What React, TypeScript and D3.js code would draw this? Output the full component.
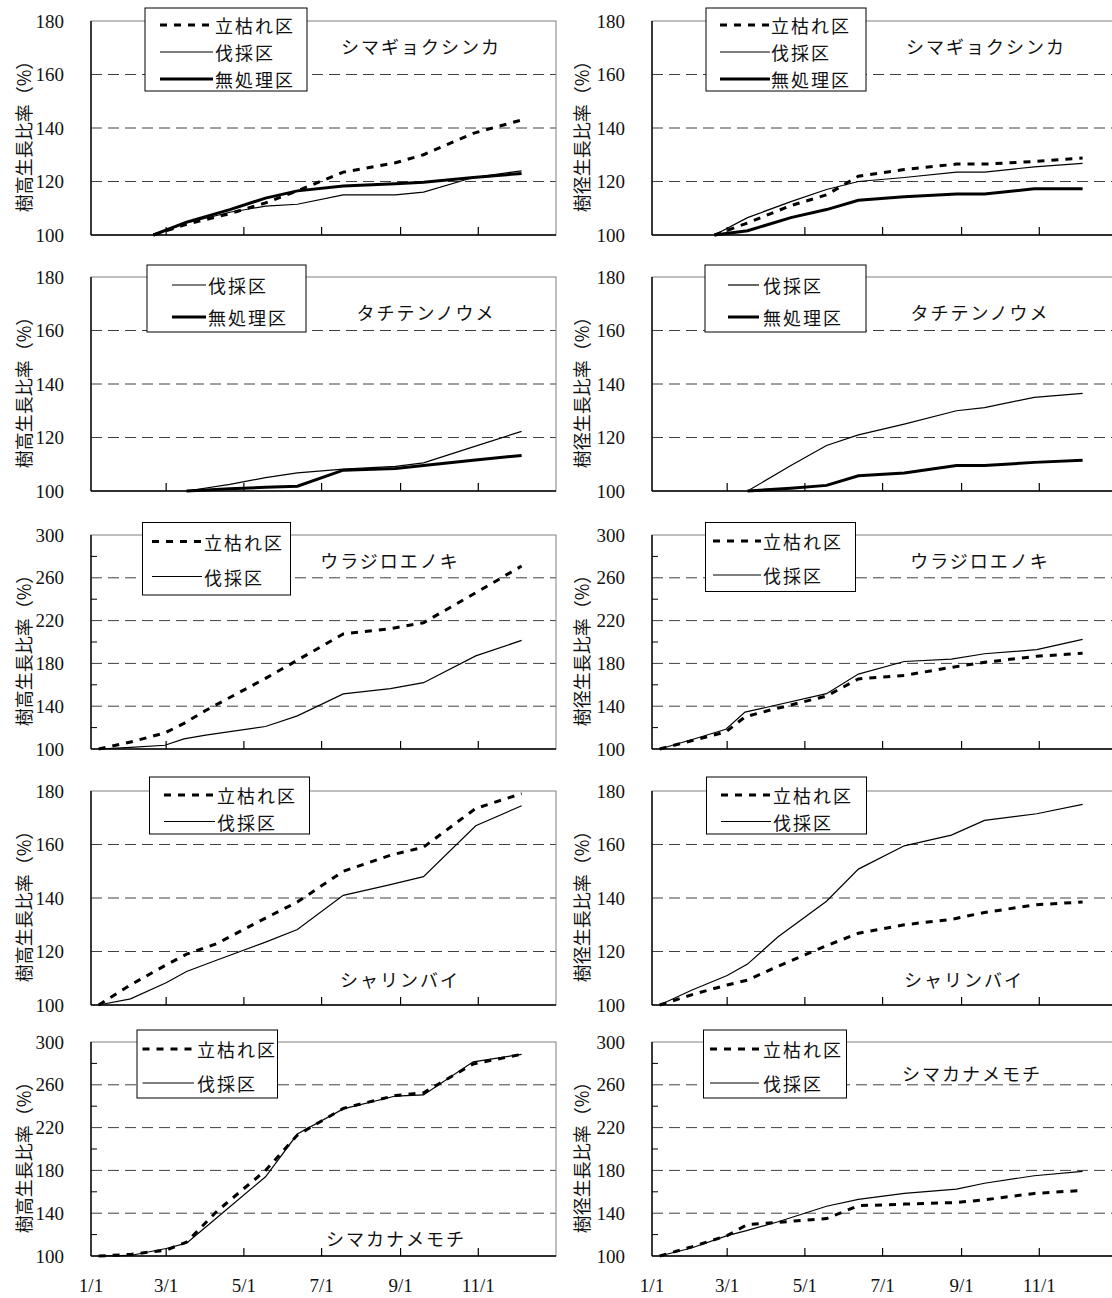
import React from 'react';
import * as d3 from 'd3';

const shimaDates = ['2/19', '3/17', '4/20', '5/18', '6/12', '7/18', '8/28', '9/19', '10/28', '12/5'];
const shimaHeightTachigare = [100, 104, 108, 112, 116.5, 123.5, 127, 130, 138, 143];
const shimaHeightBassai = [100, 104.5, 108.5, 110.8, 111.5, 115, 115, 116, 121.5, 124];
const shimaHeightMushori = [100, 104.8, 109.5, 113.8, 116.5, 118.3, 119.2, 119.7, 121.5, 123];
const shimaDiamTachigare = [100, 104.5, 111, 115, 122, 124.5, 126.5, 126.5, 127.5, 128.8];
const shimaDiamBassai = [100, 106.5, 112.5, 117, 120, 121.5, 123.5, 123.5, 125.5, 126.8];
const shimaDiamMushori = [100, 101.6, 106.5, 109.5, 113, 114.3, 115.3, 115.3, 117.3, 117.3];

const tachiDates = ['3/17', '4/20', '5/18', '6/12', '7/18', '8/28', '9/19', '10/28', '12/5'];
const tachiHeightBassai = [100, 102.5, 105, 106.8, 108.2, 109.2, 110.5, 116.5, 122.3];
const tachiHeightMushori = [100, 100.8, 101.4, 101.8, 107.8, 108.4, 109.5, 111.5, 113.3];
const tachiDiamBassai = [100, 109.5, 117, 121, 125, 130, 131.2, 135, 136.5];
const tachiDiamMushori = [100, 101, 102.1, 105.7, 106.7, 109.5, 109.5, 110.7, 111.5];

const urajiroDates = ['1/7', '2/1', '2/28', '3/15', '4/1', '5/18', '6/12', '7/18', '8/24', '9/19', '10/30', '12/5'];
const urajiroHeightTachigare = [100, 106.5, 115, 124, 136, 166, 183, 207.5, 212.5, 218, 246, 271];
const urajiroHeightBassai = [100, 101.5, 103.5, 109.5, 113, 121, 131, 151.5, 156.5, 162, 187, 201.5];
const urajiroDiamTachigare = [100, 107.7, 116, 130, 135.5, 149.5, 165.5, 168.8, 176.3, 181, 186.7, 189.5];
const urajiroDiamBassai = [100, 108.6, 118.5, 134.5, 139, 151.7, 170, 181.8, 184, 189, 192.8, 202.5];

const shariDates = ['1/7', '2/1', '3/1', '3/17', '4/10', '5/18', '6/12', '7/18', '8/24', '9/19', '10/30', '12/5'];
const shariHeightTachigare = [100, 107.5, 115, 119, 123, 132.5, 138.5, 150, 156, 159, 173.5, 179];
const shariHeightBassai = [100, 102.3, 108.3, 112.5, 116.8, 123.5, 128.2, 141, 145, 148, 167, 174.5];
const shariDiamTachigare = [100, 103.8, 107.5, 109.3, 114.5, 122.2, 126.8, 130, 132, 134.6, 137.5, 138.5];
const shariDiamBassai = [100, 105.5, 111, 115.3, 125.5, 138.8, 150.8, 159.5, 163.5, 169, 171.5, 175];

const kanameDates = ['1/7', '2/1', '3/1', '3/17', '4/10', '5/18', '6/12', '7/18', '8/28', '9/19', '10/28', '12/5'];
const kanameHeightTachigare = [100, 101.5, 105.5, 113, 142, 180, 213, 238, 250, 252.5, 279.5, 288.5];
const kanameHeightBassai = [100, 100.5, 107, 112, 136, 174, 214, 237.5, 249.5, 250.5, 281.5, 288.5];
const kanameDiamTachigare = [100, 108.5, 119, 129.5, 131.5, 135, 147, 148.5, 150, 152.5, 158.5, 161.3];
const kanameDiamBassai = [100, 107.5, 119, 124, 132, 146.5, 153, 158.5, 162.5, 168, 175, 179];

const speciesNames = ['シマギョクシンカ', 'タチテンノウメ', 'ウラジロエノキ', 'シャリンバイ', 'シマカナメモチ'];
const treatmentNames = { dash: '立枯れ区', thin: '伐採区', thick: '無処理区' };
const yTitles = ['樹高生長比率（%）', '樹径生長比率（%）'];

// layout
const W = 1112;
const H = 1298;
const rowTops = [21, 277, 535, 791, 1042];
const plotH = 214;
const colLefts = [91, 652];
const plotW = 465;

// legend boxes: [x, y, w, h, entry ys, sample x0, sample x1, text x]
const legendLayouts = [
  [145, 8, 162, 83, [25, 52, 79], 160, 213, 215],
  [706, 8, 160, 83, [25, 52, 79], 720, 770, 771],
  [147, 265, 159, 67, [285, 317], 172, 206, 208],
  [705, 265, 161, 67, [285, 317], 728, 759, 763],
  [142.5, 522.5, 148, 72.5, [541.5, 576.5], 152, 202, 204],
  [705.5, 522.5, 150, 69, [541, 575], 713, 761, 763],
  [149.5, 777, 160, 57, [795, 821.5], 164, 215, 217],
  [706.5, 777, 160, 57, [795, 821.5], 721, 771, 773],
  [137, 1030, 140.5, 68, [1049, 1083], 142.5, 194, 197],
  [703.5, 1030, 143, 68, [1049, 1083], 710, 759, 763],
];
// species label centres [x, y]
const speciesPos = [
  [421, 46], [986, 46],
  [426, 312], [980, 312],
  [390, 560], [980, 560],
  [400, 979], [964, 979],
  [396, 1238], [972, 1073],
];

const parseMD = (s) => {
  const [m, d] = s.split('/').map(Number);
  return new Date(2001, m - 1, d);
};

const mk = (kind, dates, values) => ({ kind, points: dates.map((d, i) => [parseMD(d), values[i]]) });

const panelSeries = [
  [mk('dash', shimaDates, shimaHeightTachigare), mk('thin', shimaDates, shimaHeightBassai), mk('thick', shimaDates, shimaHeightMushori)],
  [mk('dash', shimaDates, shimaDiamTachigare), mk('thin', shimaDates, shimaDiamBassai), mk('thick', shimaDates, shimaDiamMushori)],
  [mk('thin', tachiDates, tachiHeightBassai), mk('thick', tachiDates, tachiHeightMushori)],
  [mk('thin', tachiDates, tachiDiamBassai), mk('thick', tachiDates, tachiDiamMushori)],
  [mk('dash', urajiroDates, urajiroHeightTachigare), mk('thin', urajiroDates, urajiroHeightBassai)],
  [mk('dash', urajiroDates, urajiroDiamTachigare), mk('thin', urajiroDates, urajiroDiamBassai)],
  [mk('dash', shariDates, shariHeightTachigare), mk('thin', shariDates, shariHeightBassai)],
  [mk('dash', shariDates, shariDiamTachigare), mk('thin', shariDates, shariDiamBassai)],
  [mk('dash', kanameDates, kanameHeightTachigare), mk('thin', kanameDates, kanameHeightBassai)],
  [mk('dash', kanameDates, kanameDiamTachigare), mk('thin', kanameDates, kanameDiamBassai)],
];
const rowYMax = [180, 180, 300, 180, 300];

const numFont = "'Liberation Serif', 'Noto Sans CJK JP', serif";
const jpFont = "'Noto Sans CJK JP', sans-serif";

const strokeStyle = (kind) => {
  if (kind === 'dash') return { strokeWidth: 3, strokeDasharray: '7,7' };
  if (kind === 'thick') return { strokeWidth: 3 };
  return { strokeWidth: 1.2 };
};

function Panel({ idx }) {
  const row = Math.floor(idx / 2);
  const col = idx % 2;
  const x0 = colLefts[col];
  const top = rowTops[row];
  const bottom = top + plotH;
  const yMax = rowYMax[row];

  const x = d3.scaleTime().domain([new Date(2001, 0, 1), new Date(2002, 0, 1)]).range([x0, x0 + plotW]);
  const y = d3.scaleLinear().domain([100, yMax]).range([bottom, top]);

  const step = yMax === 180 ? 20 : 40;
  const labels = d3.range(100, yMax + 1, step);
  const grid = labels.filter((v) => v > 100 && v < yMax);
  const minor = yMax === 300 ? d3.range(120, 300, 40) : [];
  const monthTicks = x.ticks(d3.timeMonth.every(2)).filter((d) => d.getFullYear() === 2001);

  const line = d3.line().x((d) => x(d[0])).y((d) => y(d[1]));
  const series = panelSeries[idx];
  const [lx, ly, lw, lh, entryYs, s0, s1, tx] = legendLayouts[idx];
  const [sx, sy] = speciesPos[idx];

  return (
    <g>
      {grid.map((v) => (
        <line key={v} x1={x0} x2={x0 + plotW} y1={y(v)} y2={y(v)} stroke="#404040" strokeWidth={1} strokeDasharray="11,6" />
      ))}
      <rect x={x0} y={top} width={plotW} height={plotH} fill="none" stroke="#808080" strokeWidth={1} />
      <line x1={x0} x2={x0} y1={top} y2={bottom} stroke="#000" strokeWidth={1.4} />
      <line x1={x0} x2={x0 + plotW} y1={bottom} y2={bottom} stroke="#000" strokeWidth={1.4} />
      {monthTicks.slice(1).map((d) => (
        <line key={d.getMonth()} x1={x(d)} x2={x(d)} y1={bottom} y2={bottom - 8} stroke="#000" strokeWidth={1.2} />
      ))}
      {minor.map((v) => (
        <line key={v} x1={x0} x2={x0 + 6} y1={y(v)} y2={y(v)} stroke="#000" strokeWidth={1} />
      ))}
      {labels.map((v) => (
        <text key={v} x={x0 - 27} y={y(v)} textAnchor="end" dominantBaseline="central" fontFamily={numFont} fontSize={19} fill="#111">
          {v}
        </text>
      ))}
      {row === 4 &&
        monthTicks.map((d) => (
          <text key={d.getMonth()} x={x(d)} y={1285} textAnchor="middle" dominantBaseline="central" fontFamily={numFont} fontSize={19} fill="#111">
            {`${d.getMonth() + 1}/${d.getDate()}`}
          </text>
        ))}
      <text
        transform={`translate(${col === 0 ? 23 : 581},${(top + bottom) / 2 + 4}) rotate(-90)`}
        textAnchor="middle"
        dominantBaseline="central"
        fontFamily={jpFont}
        fontSize={18}
        fill="#111"
      >
        {yTitles[col]}
      </text>
      {series.map((s, i) => (
        <path key={i} d={line(s.points)} fill="none" stroke="#000" {...strokeStyle(s.kind)} />
      ))}
      <text x={sx} y={sy} textAnchor="middle" dominantBaseline="central" fontFamily={jpFont} fontSize={18} letterSpacing={2} fill="#111">
        {speciesNames[row]}
      </text>
      <rect x={lx} y={ly} width={lw} height={lh} fill="#fff" stroke="#000" strokeWidth={1} />
      {series.map((s, i) => (
        <g key={i}>
          <line x1={s0} x2={s1} y1={entryYs[i]} y2={entryYs[i]} stroke="#000" {...strokeStyle(s.kind)} />
          <text x={tx} y={entryYs[i]} dominantBaseline="central" fontFamily={jpFont} fontSize={18} letterSpacing={2} fill="#111">
            {treatmentNames[s.kind]}
          </text>
        </g>
      ))}
    </g>
  );
}

export default function App() {
  return (
    <svg width={W} height={H} style={{ position: 'absolute', left: 0, top: 0, background: '#fff' }}>
      <rect width={W} height={H} fill="#fff" />
      {d3.range(10).map((i) => (
        <Panel key={i} idx={i} />
      ))}
    </svg>
  );
}
